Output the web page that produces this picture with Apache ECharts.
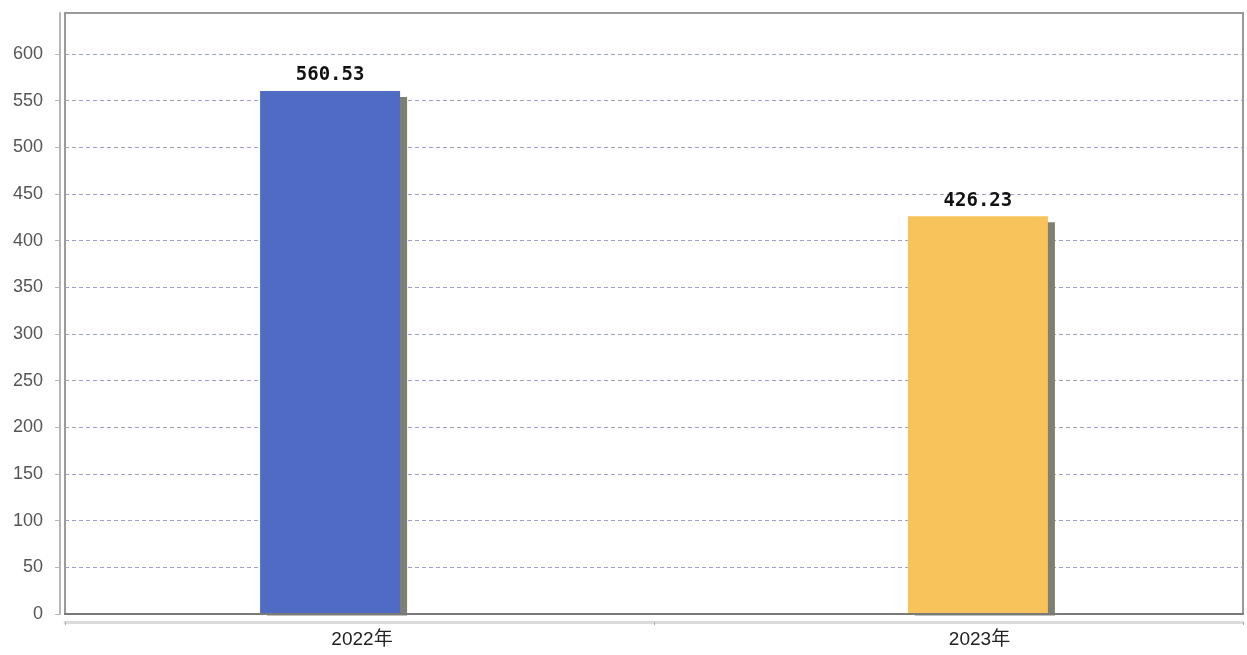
<!DOCTYPE html>
<html><head><meta charset="utf-8">
<script src="https://cdn.jsdelivr.net/npm/echarts@6/dist/echarts.min.js"></script>
<style>html,body{margin:0;padding:0;background:#fff}#c{width:1247px;height:655px}</style>
</head><body><div id="c"></div>
<script>
const categories = ['2022年', '2023年'];
const values2022 = [560.53, '-'];
const values2023 = ['-', 426.23];
const yMin = 0, yMax = 644, yInterval = 50;

const chart = echarts.init(document.getElementById('c'));
// layout: horizontal shift (left padding) of each x-axis label, in px
const labelLeftPad = [5, 62];
const labelCfg = {
  show: true, position: 'top', distance: 6,
  fontFamily: 'DejaVu Sans Mono', fontWeight: 'bold', fontSize: 19, color: '#111'
};
const shadow = { shadowColor: '#7f8074', shadowOffsetX: 7, shadowOffsetY: 6, shadowBlur: 0 };
chart.setOption({
  animation: false,
  grid: { left: 65, right: 4, top: 13, bottom: 41, show: true, borderColor: '#9a9a9a', borderWidth: 2, backgroundColor: '#fff' },
  graphic: [{
    type: 'rect', z: 10, silent: true,
    shape: { x: 66, y: 615.5, width: 1176, height: 4.5 },
    style: { fill: '#fff' }
  }],
  xAxis: [{
    type: 'category', data: categories, position: 'bottom', z: 12,
    axisLine: { lineStyle: { color: '#7a7a7a', width: 2 } },
    axisTick: { show: false }, axisLabel: { show: false }, splitLine: { show: false }
  }, {
    type: 'category', position: 'bottom', offset: 8, z: 12,
    data: categories.map((c, i) => ({ value: c, textStyle: { padding: [0, 0, 0, labelLeftPad[i]] } })),
    axisLine: { lineStyle: { color: '#dcdcdc', width: 3 } },
    axisTick: { show: true, length: 3, lineStyle: { color: '#aaa' } },
    axisLabel: { color: '#222', fontSize: 19, margin: 8, fontFamily: 'Liberation Sans, Noto Sans CJK SC' }
  }],
  yAxis: {
    type: 'value', min: yMin, max: yMax, interval: yInterval, offset: 5,
    axisLine: { show: true, lineStyle: { color: '#b5b5b5', width: 2 } },
    axisTick: { show: true, length: 5, lineStyle: { color: '#b5b5b5' } },
    axisLabel: { color: '#555', fontSize: 18, margin: 17, showMaxLabel: false, fontFamily: 'Liberation Sans' },
    splitLine: { show: true, showMaxLine: false, lineStyle: { color: '#9aa0d0', type: [4, 3], width: 1 } }
  },
  series: [{
    type: 'bar', name: '2022', data: values2022, xAxisIndex: 0, barWidth: 140, barGap: '-58%',
    itemStyle: Object.assign({ color: '#4f6bc4' }, shadow), label: labelCfg
  }, {
    type: 'bar', name: '2023', data: values2023, xAxisIndex: 0, barWidth: 140, barGap: '-58%',
    itemStyle: Object.assign({ color: '#f8c35a' }, shadow), label: labelCfg
  }]
});
</script></body></html>
